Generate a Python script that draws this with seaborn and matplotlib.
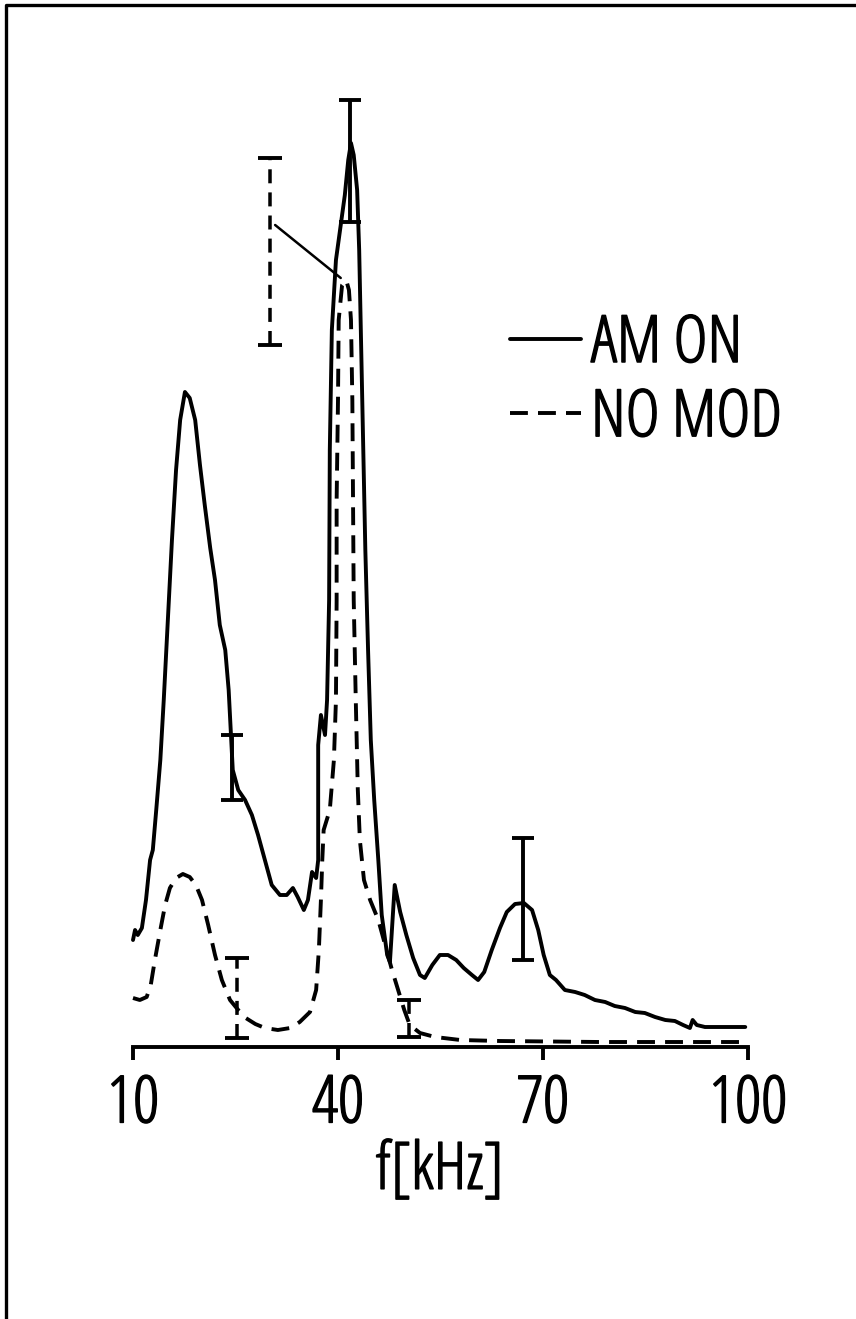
import numpy as np
import pandas as pd
import matplotlib
matplotlib.use("Agg")
import matplotlib.pyplot as plt
from matplotlib.lines import Line2D
from matplotlib import font_manager as fm
from matplotlib import patheffects as pe
import seaborn as sns

# ---------------- data (frequency in kHz, amplitude in arbitrary units) -------------
am_on_f = [10.0, 10.3, 10.7, 11.3, 11.9, 12.5, 12.9, 13.4, 14.0, 14.5, 15.1, 15.7, 16.3,
           16.9, 17.6, 18.3, 19.1, 19.8, 20.5, 21.3, 22.0, 22.7, 23.5, 24.0, 24.6, 25.4,
           26.4, 27.4, 28.3, 29.3, 30.3, 31.5, 32.5, 33.4, 34.1, 35.0, 35.6, 36.2, 36.8,
           37.1, 37.1, 37.5, 38.1, 38.4, 38.7, 38.8, 39.1, 39.7, 40.4, 41.0, 41.5, 41.9,
           42.3, 42.8, 43.1, 43.4, 43.7, 44.0, 44.4, 44.8, 45.3, 45.9, 46.4, 47.2, 47.6,
           48.3, 49.1, 50.0, 51.0, 52.0, 52.7, 53.8, 54.9, 56.1, 57.3, 58.4, 59.6, 60.5,
           61.4, 62.5, 63.7, 64.7, 65.9, 67.2, 68.4, 69.3, 70.1, 71.0, 71.9, 73.2, 74.7,
           76.1, 77.6, 79.1, 80.5, 82.0, 83.5, 84.9, 86.4, 87.9, 89.3, 90.5, 91.5, 91.9,
           92.5, 93.7, 95.9, 99.6]
am_on_a = [10.7, 11.7, 11.2, 11.9, 14.7, 18.7, 19.7, 23.7, 28.7, 34.7, 42.7, 50.7, 57.7,
           62.7, 65.5, 64.9, 62.7, 58.2, 54.2, 49.9, 46.7, 42.2, 39.7, 35.7, 27.7, 25.7,
           24.7, 23.2, 21.2, 18.7, 16.2, 15.2, 15.2, 15.9, 15.0, 13.7, 14.7, 17.5, 16.9,
           18.7, 30.2, 33.2, 31.2, 34.7, 44.7, 59.7, 71.7, 78.7, 82.2, 85.2, 88.7, 90.4,
           89.2, 85.7, 79.7, 69.7, 59.7, 49.7, 39.7, 30.7, 24.7, 18.7, 13.2, 9.2, 8.5,
           16.2, 13.5, 11.2, 8.9, 7.2, 6.9, 8.2, 9.2, 9.2, 8.7, 7.9, 7.2, 6.7,
           7.5, 9.7, 11.9, 13.5, 14.3, 14.4, 13.7, 11.7, 9.2, 7.2, 6.7, 5.7, 5.5,
           5.2, 4.7, 4.5, 4.1, 3.9, 3.5, 3.4, 3.0, 2.7, 2.6, 2.2, 1.9, 2.7,
           2.2, 2.0, 2.0, 2.0]

no_mod_f = [10.0, 11.0, 12.0, 12.6, 13.2, 14.0, 14.7, 15.4, 16.3, 17.3, 18.3, 19.2, 20.1,
            21.0, 22.0, 23.0, 24.2, 25.4, 26.5, 27.9, 29.3, 31.2, 33.0, 34.4, 35.9, 36.8,
            37.2, 37.5, 37.7, 37.9, 38.8, 39.4, 39.7, 39.8, 39.8, 40.0, 40.1, 40.6, 41.2,
            41.6, 41.9, 42.1, 42.2, 42.3, 42.6, 42.9, 43.2, 43.8, 44.7, 45.9, 46.9, 47.9,
            48.8, 49.7, 50.5, 52.0, 54.2, 57.9, 63.7, 78.3, 99.6]
no_mod_a = [4.9, 4.7, 5.0, 6.2, 8.7, 11.7, 14.2, 15.9, 16.9, 17.3, 17.0, 16.2, 14.7,
            12.2, 9.2, 6.7, 4.7, 3.7, 2.9, 2.3, 1.9, 1.7, 1.9, 2.5, 3.5, 5.7,
            9.7, 14.7, 18.7, 21.7, 23.7, 28.7, 34.7, 44.7, 54.7, 64.7, 72.7, 76.2, 76.7,
            75.7, 72.7, 64.7, 54.7, 44.7, 34.7, 25.7, 20.7, 16.7, 14.7, 12.7, 10.2, 7.7,
            5.7, 3.7, 2.2, 1.4, 1.0, 0.7, 0.6, 0.5, 0.5]

# error bars: (frequency, centre, half-range)
err_solid_f = [41.8, 24.5, 67.1]
err_solid_y = [88.6, 27.95, 14.8]
err_solid_e = [6.1, 3.25, 6.1]
err_dash_f = [30.05, 25.2, 50.4]
err_dash_y = [79.55, 4.9, 2.85]
err_dash_e = [9.35, 4.0, 1.85]

tick_values = [10, 40, 70, 100]
tick_labels = ["10", "40", "70", "100"]
series_names = ["AM ON", "NO MOD"]
x_label = "f[kHz]"


# ---------------- font: prefer a narrow / condensed sans --------------------------------
def pick_font():
    prefs = ["liberation sans narrow", "dejavu sans condensed", "opensans-condlight",
             "open sans condensed", "notosans-semicondensed.", "notosans-condensed.",
             "roboto condensed", "robotocondensed-regular"]
    entries = fm.fontManager.ttflist
    for key in prefs:
        for f in entries:
            tag = (f.name + " | " + f.fname.split("/")[-1]).lower()
            if key in tag and f.style == "normal" and "bold" not in tag and "italic" not in tag:
                return fm.FontProperties(fname=f.fname)
    return fm.FontProperties(family="DejaVu Sans")


# ---------------- figure -------------------------------------------------------------
W, H, DPI = 856, 1319, 100
sns.set_theme(style="white")
plt.rcParams["font.family"] = ["DejaVu Sans"]
FP = pick_font()
FS = 47
FPS = FP.copy()
FPS.set_size(FS)
THICK = [pe.withStroke(linewidth=1.1, foreground="black")]

fig = plt.figure(figsize=(W / DPI, H / DPI), dpi=DPI)
fig.patch.set_facecolor("white")

px_per_khz = (748 - 133) / 90.0
left_px, right_px = 100, 780
bottom_px, top_px = 1047, 40
ax = fig.add_axes([left_px / W, (H - bottom_px) / H,
                   (right_px - left_px) / W, (bottom_px - top_px) / H])
ax.set_xlim(10 + (left_px - 133) / px_per_khz, 10 + (right_px - 133) / px_per_khz)
ax.set_ylim(0, (bottom_px - top_px) / 10.0)
ax.set_facecolor("white")

LW = 2.8
df_on = pd.DataFrame({"f": am_on_f, "a": am_on_a})
df_no = pd.DataFrame({"f": no_mod_f, "a": no_mod_a})
sns.lineplot(data=df_on, x="f", y="a", ax=ax, color="black", lw=LW,
             sort=False, estimator=None, label=series_names[0])
sns.lineplot(data=df_no, x="f", y="a", ax=ax, color="black", lw=LW,
             sort=False, estimator=None, label=series_names[1])
ax.lines[1].set_dashes((4.6, 2.6))

# error bars
ax.errorbar(err_solid_f, err_solid_y, yerr=err_solid_e, fmt="none", ecolor="black",
            elinewidth=LW, capsize=8, capthick=LW, clip_on=False)
eb = ax.errorbar(err_dash_f, err_dash_y, yerr=err_dash_e, fmt="none", ecolor="black",
                 elinewidth=LW * 0.9, capsize=8.5, capthick=LW, clip_on=False)
eb[2][0].set_linestyle((0, (4.0, 2.6)))

# leader line from dashed error bar to dashed peak
ax.annotate("", xy=(40.4, 76.9), xytext=(30.8, 82.2),
            arrowprops=dict(arrowstyle="-", lw=1.8, color="black", shrinkA=0, shrinkB=0))

# axis styling
for s in ["left", "top", "right"]:
    ax.spines[s].set_visible(False)
ax.spines["bottom"].set_bounds(10, 100)
ax.spines["bottom"].set_linewidth(LW)
ax.spines["bottom"].set_color("black")
ax.set_yticks([])
ax.set_ylabel("")
ax.set_xticks(tick_values)
ax.set_xticklabels(tick_labels)
ax.set_xticks([tick_values[0], tick_values[-1]], minor=True)
ax.tick_params(axis="x", which="major", direction="out", length=9, width=LW,
               color="black", pad=10, labelcolor="black", bottom=True)
ax.tick_params(axis="x", which="minor", direction="in", length=9, width=LW,
               color="black", bottom=True)
for lab in ax.get_xticklabels():
    lab.set_fontproperties(FPS)
    lab.set_path_effects(THICK)
ax.set_xlabel(x_label, color="black", labelpad=1, fontproperties=FPS)
ax.xaxis.label.set_path_effects(THICK)
ax.grid(False)

leg = ax.legend(loc="upper left", bbox_to_anchor=(510 / W, 1 - 313 / H),
                bbox_transform=fig.transFigure, frameon=False,
                prop=FPS, handlelength=1.08, handletextpad=0.16, labelspacing=0.14,
                borderpad=0, borderaxespad=0)
for t in leg.get_texts():
    t.set_color("black")
    t.set_path_effects(THICK)

# outer frame (top and left edges of the scanned box)
fig.add_artist(Line2D([6 / W, 6 / W, 1.0], [0.0, 1 - 5 / H, 1 - 5 / H],
                      transform=fig.transFigure, color="black", lw=2.4,
                      solid_joinstyle="round"))

fig.savefig("out.png", dpi=DPI, facecolor="white")
